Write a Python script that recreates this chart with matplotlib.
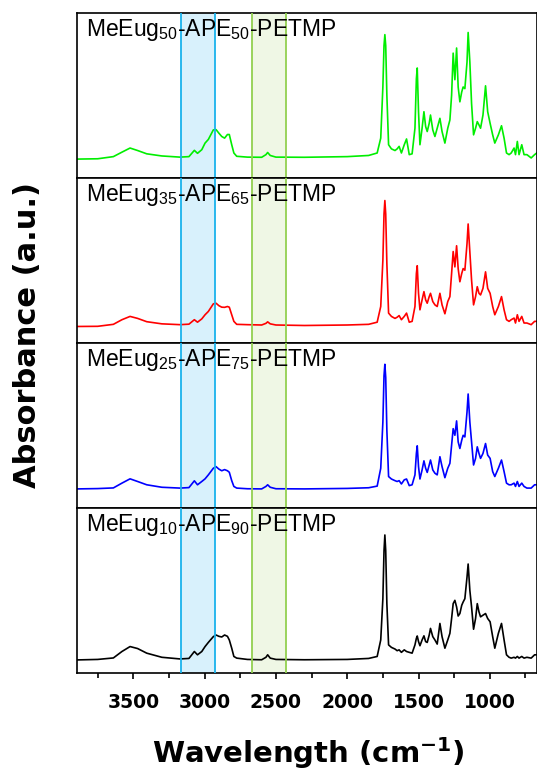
import matplotlib
matplotlib.use('Agg')
import matplotlib.pyplot as plt

# 字体设置
plt.rcParams['mathtext.fontset'] = 'custom'
plt.rcParams['mathtext.rm'] = 'Liberation Sans'
plt.rcParams['mathtext.bf'] = 'DejaVu Sans:bold'
plt.rcParams['xtick.labelsize'] = 13.5

# 波数 (cm-1)
wavenumber = [3895, 3750, 3640, 3580, 3523, 3470, 3406, 3300, 3173, 3110,
              3072, 3050, 3020, 2997, 2974, 2939, 2920, 2900, 2880, 2860,
              2840, 2827, 2810, 2795, 2775, 2700, 2600, 2570, 2558, 2540,
              2500, 2300, 2000, 1850, 1790, 1765, 1750, 1742, 1736, 1730,
              1722, 1710, 1690, 1665, 1650, 1636, 1620, 1600, 1584, 1565,
              1545, 1525, 1515, 1509, 1500, 1490, 1475, 1462, 1450, 1439,
              1425, 1416, 1400, 1385, 1369, 1350, 1335, 1315, 1295, 1280,
              1268, 1257, 1245, 1233, 1222, 1210, 1197, 1187, 1175, 1160,
              1152, 1140, 1128, 1114, 1100, 1088, 1076, 1065, 1048, 1030,
              1015, 998, 980, 965, 940, 918, 900, 883, 865, 850,
              830, 820, 807, 795, 776, 760, 740, 710, 686, 671]

# 吸光度 (a.u.)
abs_50 = [.113, .115, .128, .155, .180, .165, .145, .132, .125, .128,
          .166, .148, .170, .210, .232, .290, .292, .270, .250, .240,
          .262, .262, .200, .150, .130, .125, .124, .140, .153, .135,
          .125, .124, .128, .135, .150, .240, .550, .800, .867, .800,
          .500, .200, .175, .165, .175, .190, .150, .200, .235, .140,
          .145, .300, .600, .665, .400, .200, .300, .400, .310, .280,
          .330, .380, .290, .250, .300, .360, .280, .210, .300, .350,
          .500, .755, .594, .786, .550, .460, .520, .550, .540, .700,
          .880, .700, .450, .260, .300, .340, .320, .300, .380, .557,
          .400, .330, .260, .210, .260, .315, .240, .150, .140, .150,
          .180, .140, .220, .140, .200, .140, .140, .120, .140, .150]

abs_35 = [.099, .100, .112, .140, .160, .148, .128, .115, .110, .113,
          .140, .125, .145, .170, .190, .236, .240, .225, .216, .215,
          .220, .216, .170, .130, .112, .110, .108, .118, .127, .115,
          .108, .105, .108, .112, .125, .220, .500, .780, .862, .780,
          .480, .180, .160, .148, .155, .165, .140, .160, .180, .125,
          .130, .220, .420, .467, .300, .200, .260, .310, .260, .240,
          .280, .300, .250, .230, .220, .300, .230, .176, .250, .280,
          .420, .553, .460, .588, .450, .370, .420, .450, .440, .600,
          .720, .550, .380, .230, .280, .340, .300, .290, .330, .430,
          .330, .300, .220, .170, .220, .280, .200, .140, .130, .140,
          .150, .120, .170, .130, .160, .120, .120, .110, .130, .130]

abs_25 = [.115, .117, .121, .150, .176, .160, .140, .125, .120, .123,
          .164, .140, .160, .176, .200, .240, .250, .235, .225, .232,
          .225, .216, .165, .130, .120, .116, .115, .130, .140, .125,
          .116, .115, .118, .122, .132, .240, .520, .800, .870, .790,
          .470, .190, .175, .165, .160, .165, .145, .170, .175, .135,
          .140, .200, .330, .376, .250, .175, .230, .285, .240, .215,
          .260, .290, .230, .210, .200, .310, .250, .183, .240, .270,
          .380, .480, .440, .527, .400, .360, .410, .440, .430, .580,
          .690, .520, .400, .260, .300, .370, .330, .300, .330, .390,
          .320, .300, .220, .190, .240, .290, .220, .150, .140, .140,
          .150, .130, .160, .130, .150, .130, .120, .120, .140, .140]

abs_10 = [.079, .082, .091, .130, .160, .148, .120, .095, .085, .088,
          .130, .110, .130, .160, .185, .220, .230, .222, .218, .230,
          .222, .200, .150, .100, .090, .082, .080, .095, .110, .090,
          .082, .080, .082, .088, .100, .200, .450, .740, .836, .740,
          .420, .170, .155, .145, .135, .140, .125, .140, .130, .125,
          .120, .170, .210, .224, .190, .165, .200, .225, .190, .185,
          .230, .270, .220, .200, .175, .300, .220, .150, .200, .240,
          .330, .420, .440, .400, .345, .360, .410, .430, .450, .580,
          .660, .500, .400, .265, .330, .420, .370, .340, .350, .360,
          .330, .310, .220, .150, .240, .300, .200, .110, .095, .090,
          .095, .090, .100, .090, .100, .090, .095, .090, .110, .110]

spectra = [abs_50, abs_35, abs_25, abs_10]
labels = [r'MeEug$_{50}$-APE$_{50}$-PETMP',
          r'MeEug$_{35}$-APE$_{65}$-PETMP',
          r'MeEug$_{25}$-APE$_{75}$-PETMP',
          r'MeEug$_{10}$-APE$_{90}$-PETMP']
colors = ['#00ee00', '#ff0000', '#0000ff', '#000000']

# 坐标轴刻度
majorTicks = [3500, 3000, 2500, 2000, 1500, 1000]
majorLabels = ['3500', '3000', '2500', '2000', '1500', '1000']
minorTicks = [3750, 3250, 2750, 2250, 1750, 1250, 750]

# 高亮区域
blueBand = (3165, 2925)
greenBand = (2670, 2430)

fig, axes = plt.subplots(4, 1, sharex=True, figsize=(5.37, 7.78), dpi=100)
fig.subplots_adjust(left=0.1434, right=0.9995, top=0.9837, bottom=0.135, hspace=0)

for i, ax in enumerate(axes):
    ax.axvspan(blueBand[0], blueBand[1], facecolor='#d8f1fc', lw=0, zorder=0)
    ax.axvspan(greenBand[0], greenBand[1], facecolor='#eff7e5', lw=0, zorder=0)
    for xv in blueBand:
        ax.axvline(xv, color='#19b2ec', lw=1.3, zorder=3)
    for xv in greenBand:
        ax.axvline(xv, color='#92d050', lw=1.3, zorder=3)

    ax.plot(wavenumber, spectra[i], color=colors[i], lw=1.2, zorder=2)
    ax.text(0.0196, 0.86, labels[i], transform=ax.transAxes, fontsize=16.5,
            family='Liberation Sans', va='baseline', ha='left', zorder=4)

    ax.set_ylim(0, 1)
    ax.set_yticks([])
    for sp in ax.spines.values():
        sp.set_linewidth(1.2)

ax = axes[-1]
ax.set_xlim(3895, 671)
ax.set_xticks(majorTicks)
ax.set_xticklabels(majorLabels)
ax.set_xticks(minorTicks, minor=True)
for a in axes[:-1]:
    a.tick_params(axis='x', which='both', bottom=False, labelbottom=False)
ax.tick_params(axis='x', which='both', bottom=True, labelbottom=True, direction='out', width=1.2)
ax.tick_params(axis='x', which='major', length=4.5, pad=10, labelsize=13.5)
ax.tick_params(axis='x', which='minor', length=3.5)
for lab in ax.get_xticklabels():
    lab.set_fontweight('bold')
    lab.set_fontsize(13.5)

fig.text(0.052, 0.569, 'Absorbance (a.u.)', rotation=90, ha='center', va='center',
         fontsize=22, fontweight='bold', family='DejaVu Sans')
fig.text(0.575, 0.0193, r'Wavelength (cm$^{\mathbf{-1}}$)', ha='center', va='baseline',
         fontsize=21, fontweight='bold', family='DejaVu Sans')

plt.savefig('out.png', dpi=100)
